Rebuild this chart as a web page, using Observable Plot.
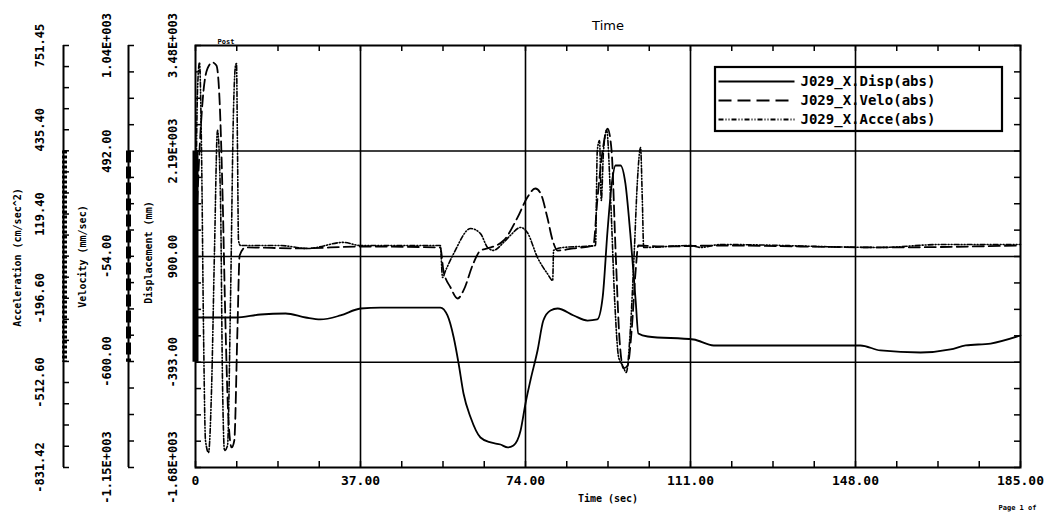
<!DOCTYPE html>
<html>
<head>
<meta charset="utf-8">
<script src="https://cdn.jsdelivr.net/npm/d3@7"></script>
<script src="https://cdn.jsdelivr.net/npm/@observablehq/plot@0.6"></script>
<style>
html,body{margin:0;padding:0;background:#fff;}
#chart svg{display:block;}
g[aria-label="xtick-labels"] text{letter-spacing:1.2px;}
g[aria-label="ytick-labels"] text{letter-spacing:1px;}
g[aria-label="axis-titles"] text{letter-spacing:2.4px;}
g[aria-label="x-title"] text{letter-spacing:2.6px;}
g[aria-label="legend-text"] text{letter-spacing:3.4px;}
g[aria-label="chart-title"] text{letter-spacing:5px;}
</style>
</head>
<body>
<div id="chart"></div>
<script>
// ---- axis ticks / labels ----
const timeTicks = [0, 37, 74, 111, 148, 185];
const timeTickLabels = ["0", "37.00", "74.00", "111.00", "148.00", "185.00"];
const dispTicks = [3480, 2190, 900, -393, -1680];
const dispTickLabels = ["3.48E+003", "2.19E+003", "900.00", "-393.00", "-1.68E+003"];
const veloTicks = [1040, 492, -54, -600, -1150];
const veloTickLabels = ["1.04E+003", "492.00", "-54.00", "-600.00", "-1.15E+003"];
const acceTicks = [751.45, 435.40, 119.40, -196.60, -512.60, -831.42];
const acceTickLabels = ["751.45", "435.40", "119.40", "-196.60", "-512.60", "-831.42"];
const axisTitles = ["Acceleration (cm/sec^2)", "Velocity (mm/sec)", "Displacement (mm)"];
const seriesNames = ["J029_X.Disp(abs)", "J029_X.Velo(abs)", "J029_X.Acce(abs)"];

// ---- series (time in sec) ----
const dispTime = [0, 9.0, 14.6, 20.2, 24.7, 28.0, 32.5, 37.0, 41.5, 54.9, 56.5, 57.9, 59.0, 60.1, 61.7, 63.9, 66.2, 68.4, 70.0, 71.3, 72.9, 74.0, 75.1, 76.7, 78.0, 79.6, 81.2, 84.8, 87.9, 90.1, 91.3, 92.4, 93.3, 94.2, 95.3, 96.4, 97.5, 98.7, 99.3, 101.4, 111.7, 116.2, 149.1, 153.6, 162.6, 169.3, 172.7, 178.3, 185];
const dispValue = [154, 154, 191, 203, 154, 130, 179, 264, 276, 276, 179, -90, -408, -775, -1069, -1313, -1374, -1399, -1435, -1411, -1228, -897, -616, -249, 117, 240, 264, 179, 117, 130, 399, 1218, 1768, 2013, 2013, 1793, 1181, 362, -42, -78, -115, -188, -188, -249, -274, -237, -188, -164, -66];

const veloTime = [0, 0.9, 1.8, 2.7, 3.8, 4.7, 5.4, 6.1, 6.7, 7.4, 8.1, 8.7, 9.4, 9.9, 11.2, 23.5, 37.0, 54.9, 55.6, 57.2, 58.8, 60.1, 62.3, 63.9, 65.5, 69.1, 72.2, 74.4, 76.2, 77.4, 78.9, 80.1, 81.2, 84.8, 89.2, 90.1, 91.3, 92.4, 93.3, 94.2, 95.1, 96.0, 96.9, 97.8, 98.7, 99.3, 104.3, 117.7, 153.6, 185];
const veloValue = [-24, 495, 806, 921, 952, 936, 755, 236, -387, -906, -1046, -1010, -439, -50, -8, -13, -3, -8, -128, -216, -273, -231, -91, -24, -13, 28, 147, 251, 298, 272, 147, 28, -24, -13, 2, 236, 495, 609, 495, -24, -491, -636, -621, -439, -128, 2, -3, 2, -8, 2];

const acceTime = [0, 0.45, 0.9, 1.35, 1.8, 2.24, 2.92, 3.59, 4.26, 4.93, 5.61, 6.05, 6.5, 7.18, 7.85, 8.52, 8.97, 9.19, 9.42, 9.64, 10.1, 19.1, 25.1, 33.2, 37.0, 54.9, 55.4, 56.1, 57.9, 61.7, 63.9, 65.5, 66.8, 69.1, 70.6, 72.9, 74.4, 76.7, 78.9, 80.1, 80.3, 82.5, 89.7, 90.1, 90.6, 91.0, 91.5, 92.2, 93.1, 94.0, 94.9, 95.8, 96.6, 97.5, 98.4, 99.1, 99.8, 100.2, 100.5, 111.0, 113.2, 117.7, 153.6, 167.1, 185];
const acceValue = [-17, 583, 688, 358, -318, -730, -775, -543, -17, 433, 170, -505, -768, -749, -205, 508, 676, 684, 358, 20, 1, 1, -10, 13, 1, 1, -119, -92, -29, 65, 46, -6, -17, 13, 39, 69, 50, -44, -104, -130, -17, -6, 1, 358, 395, 170, 358, 433, 170, -205, -419, -449, -475, -318, -17, 245, 369, 170, -6, 1, -6, 5, -6, 5, 5];

// ---- layout ----
const W = 1054, H = 520, ML = 195, MR = 34, MT = 45, MB = 53;
const X0 = timeTicks[0], X1 = timeTicks[timeTicks.length - 1];
const Y0 = dispTicks[dispTicks.length - 1], Y1 = dispTicks[0];
const fx = p => X0 + (p - ML) / (W - ML - MR) * (X1 - X0);   // pixel -> time
const fy = p => Y1 - (p - MT) / (H - MT - MB) * (Y1 - Y0);   // pixel -> disp units
const dxLen = px => px / (W - ML - MR) * (X1 - X0);
const dyLen = px => px / (H - MT - MB) * (Y1 - Y0);

const mapTo = (ticks) => {
  const lo = ticks[ticks.length - 1], hi = ticks[0];
  return v => Y0 + (v - lo) / (hi - lo) * (Y1 - Y0);
};
const veloY = mapTo(veloTicks);
const acceY = mapTo(acceTicks);

const subdivide = (ticks, n) => {
  const out = [];
  for (let i = 0; i < ticks.length - 1; i++)
    for (let k = 0; k < n; k++) out.push(ticks[i] + (ticks[i + 1] - ticks[i]) * k / n);
  out.push(ticks[ticks.length - 1]);
  return out;
};
const xMinor = subdivide(timeTicks, 4);
const dispMinor = subdivide(dispTicks, 4);
const veloMinor = subdivide(veloTicks, 4).map(veloY);
const acceMinor = subdivide(acceTicks, 4).map(acceY);

const disp = dispTime.map((t, i) => ({t, y: dispValue[i]}));
const velo = veloTime.map((t, i) => ({t, y: veloY(veloValue[i])}));
const acce = acceTime.map((t, i) => ({t, y: acceY(acceValue[i])}));

const MONO = "DejaVu Sans Mono";
const ACC_DX = -132, VEL_DX = -67;
const TL = 6;
const dashVel = "11,5", dashAcc = "5,2,1,2,1,2";

const legendRows = [
  {name: seriesNames[0], y: fy(81), dash: "none"},
  {name: seriesNames[1], y: fy(100), dash: "13,6"},
  {name: seriesNames[2], y: fy(119), dash: dashAcc}
];

const chart = Plot.plot({
  width: W, height: H,
  marginLeft: ML, marginRight: MR, marginTop: MT, marginBottom: MB,
  x: {domain: [X0, X1], axis: null},
  y: {domain: [Y0, Y1], axis: null},
  style: {background: "#fff", color: "#000"},
  marks: [
    // grid
    Plot.ruleX(timeTicks.slice(1, -1), {stroke: "#000", strokeWidth: 1.6}),
    Plot.ruleY(dispTicks.slice(1, -1), {stroke: "#000", strokeWidth: 1.6}),
    // frame minor ticks
    Plot.ruleX(xMinor, {y1: Y0, y2: Y0 + dyLen(TL), stroke: "#000", strokeWidth: 1.5}),
    Plot.ruleX(xMinor, {y1: Y1, y2: Y1 - dyLen(TL), stroke: "#000", strokeWidth: 1.5}),
    Plot.ruleY(dispMinor, {x1: X0, x2: X0 + dxLen(TL), stroke: "#000", strokeWidth: 1.5}),
    Plot.ruleY(dispMinor, {x1: X1, x2: X1 - dxLen(TL), stroke: "#000", strokeWidth: 1.5}),
    // extra axes
    Plot.ruleX([X0], {dx: ACC_DX, stroke: "#000", strokeWidth: 2}),
    Plot.ruleY(acceMinor, {x1: X0, x2: X0 + dxLen(TL), dx: ACC_DX, stroke: "#000", strokeWidth: 1.5}),
    Plot.ruleX([X0], {y1: dispTicks[1], y2: dispTicks[3], dx: ACC_DX + 1, stroke: "#000", strokeWidth: 5, strokeDasharray: "3,2"}),
    Plot.ruleX([X0], {dx: VEL_DX, stroke: "#000", strokeWidth: 2}),
    Plot.ruleY(veloMinor, {x1: X0, x2: X0 + dxLen(TL), dx: VEL_DX, stroke: "#000", strokeWidth: 1.5}),
    Plot.ruleX([X0], {y1: dispTicks[1], y2: dispTicks[3], dx: VEL_DX, stroke: "#000", strokeWidth: 5, strokeDasharray: "12,4"}),
    Plot.ruleX([X0], {y1: dispTicks[1], y2: dispTicks[3], dx: 0, stroke: "#000", strokeWidth: 6}),
    // series
    Plot.line(acce, {x: "t", y: "y", stroke: "#000", strokeWidth: 1.6, strokeDasharray: dashAcc, curve: "monotone-x"}),
    Plot.line(velo, {x: "t", y: "y", stroke: "#000", strokeWidth: 1.8, strokeDasharray: dashVel, curve: "monotone-x"}),
    Plot.line(disp, {x: "t", y: "y", stroke: "#000", strokeWidth: 1.8, curve: "monotone-x"}),
    // frame
    Plot.frame({stroke: "#000", strokeWidth: 2}),
    // x tick labels
    Plot.text(timeTicks, {x: d => d, frameAnchor: "bottom", dy: 17, text: (d, i) => timeTickLabels[i],
      fontFamily: MONO, fontWeight: "bold", fontSize: 13, ariaLabel: "xtick-labels"}),
    // y tick labels
    Plot.text(acceTicks, {y: d => acceY(d), frameAnchor: "left", textAnchor: "middle", dx: -155, rotate: -90, text: (d, i) => acceTickLabels[i],
      fontFamily: MONO, fontWeight: "bold", fontSize: 12, ariaLabel: "ytick-labels"}),
    Plot.text(veloTicks, {y: d => veloY(d), frameAnchor: "left", textAnchor: "middle", dx: -88, rotate: -90, text: (d, i) => veloTickLabels[i],
      fontFamily: MONO, fontWeight: "bold", fontSize: 12, ariaLabel: "ytick-labels"}),
    Plot.text(dispTicks, {y: d => d, frameAnchor: "left", textAnchor: "middle", dx: -22, rotate: -90, text: (d, i) => dispTickLabels[i],
      fontFamily: MONO, fontWeight: "bold", fontSize: 12, ariaLabel: "ytick-labels"}),
    // axis titles
    Plot.text(axisTitles, {text: d => d, rotate: -90, textAnchor: "middle",
      fontFamily: MONO, fontWeight: "bold", fontSize: 10, ariaLabel: "axis-titles",
      x: (d, i) => fx([17, 82, 148][i]), y: (d, i) => fy([257, 256, 252][i])}),
    Plot.text(["Time (sec)"], {frameAnchor: "bottom", dy: 34, text: d => d,
      fontFamily: MONO, fontWeight: "bold", fontSize: 10, ariaLabel: "x-title"}),
    Plot.text(["Time"], {frameAnchor: "top", dy: -25, text: d => d,
      fontFamily: "DejaVu Sans", fontSize: 13, ariaLabel: "chart-title"}),
    Plot.text(["Page 1 of"], {frameAnchor: "bottom-right", dx: -22, dy: 42, textAnchor: "start", text: d => d,
      fontFamily: MONO, fontWeight: "bold", fontSize: 7}),
    Plot.text(["Post"], {frameAnchor: "top-left", dx: 22, dy: -6, textAnchor: "start", text: d => d,
      fontFamily: MONO, fontWeight: "bold", fontSize: 7}),
    // legend
    Plot.rect([0], {x1: fx(715), x2: fx(1002), y1: fy(67), y2: fy(131), fill: "none", stroke: "#000", strokeWidth: 2.2}),
    ...legendRows.map(r => Plot.link([r], {x1: fx(718), x2: fx(794), y1: "y", y2: "y", stroke: "#000", strokeWidth: 2,
      strokeDasharray: r.dash})),
    Plot.text(legendRows, {x: fx(800), y: "y", text: "name", textAnchor: "start",
      fontFamily: MONO, fontWeight: "bold", fontSize: 14, ariaLabel: "legend-text"})
  ]
});
document.getElementById("chart").appendChild(chart);
</script>
</body>
</html>
